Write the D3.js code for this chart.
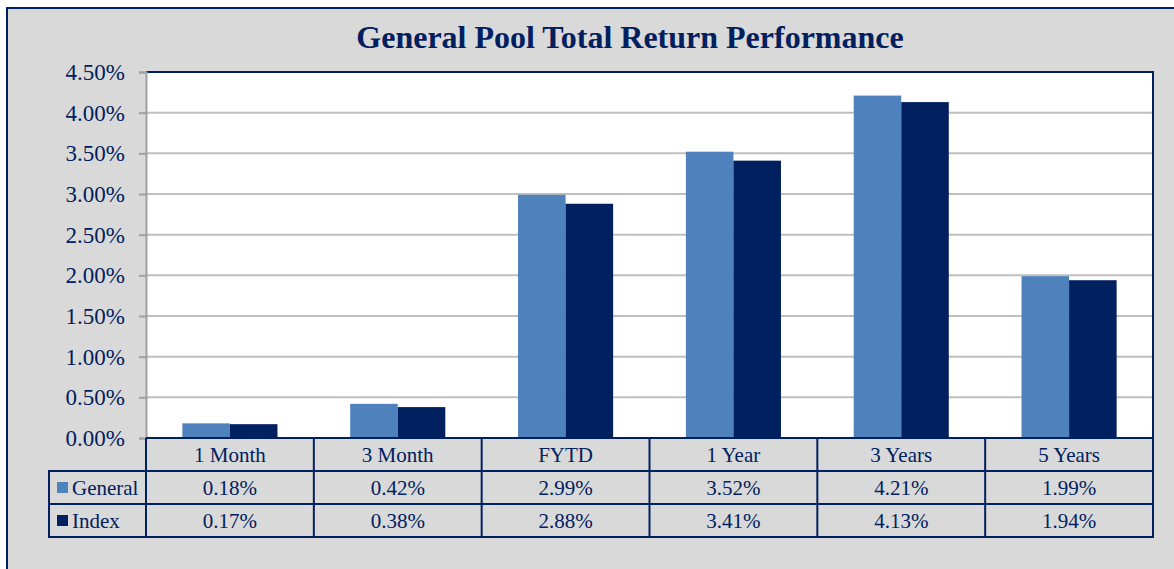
<!DOCTYPE html>
<html>
<head>
<meta charset="utf-8">
<script src="https://cdn.jsdelivr.net/npm/d3@7"></script>
<style>
  body { margin: 0; background: #fff; }
  text { font-family: "Liberation Serif", "Times New Roman", serif; fill: #002060; }
</style>
</head>
<body>
<svg id="chart" width="1174" height="569"></svg>
<script>
const categories = ["1 Month", "3 Month", "FYTD", "1 Year", "3 Years", "5 Years"];
const seriesNames = ["General", "Index"];
const generalValues = [0.18, 0.42, 2.99, 3.52, 4.21, 1.99];
const indexValues = [0.17, 0.38, 2.88, 3.41, 4.13, 1.94];
const seriesColors = ["#4f81bd", "#002060"];
const yTicks = [0, 0.5, 1, 1.5, 2, 2.5, 3, 3.5, 4, 4.5];

const svg = d3.select("#chart");
const navy = "#002060";

// outer frame (runs off the right and bottom of the picture)
svg.append("rect")
    .attr("x", 7).attr("y", 8)
    .attr("width", 1180).attr("height", 580)
    .attr("fill", "#d9d9d9")
    .attr("stroke", navy).attr("stroke-width", 2);

svg.append("text")
    .attr("x", 630).attr("y", 48)
    .attr("text-anchor", "middle")
    .style("font-size", "32px").style("font-weight", "bold")
    .text("General Pool Total Return Performance");

const plotLeft = 146, plotRight = 1153, plotTop = 72, plotBottom = 438;

const x = d3.scaleBand().domain(categories).range([plotLeft, plotRight]).paddingInner(0).paddingOuter(0);
const x1 = d3.scaleBand().domain(seriesNames).range([0, x.bandwidth()]).paddingInner(0).paddingOuter(0.765);
const y = d3.scaleLinear().domain([0, 4.5]).range([plotBottom, plotTop]);

// plot area
svg.append("rect")
    .attr("x", plotLeft).attr("y", plotTop)
    .attr("width", plotRight - plotLeft).attr("height", plotBottom - plotTop)
    .attr("fill", "#fff");

// gridlines
svg.append("g").selectAll("line")
    .data(yTicks.filter(d => d > 0 && d < 4.5))
    .join("line")
    .attr("x1", plotLeft).attr("x2", plotRight)
    .attr("y1", d => y(d)).attr("y2", d => y(d))
    .attr("stroke", "#bfbfbf").attr("stroke-width", 2);

// plot border top and right
svg.append("path")
    .attr("d", `M${plotLeft},${plotTop}H${plotRight}V${plotBottom}`)
    .attr("fill", "none").attr("stroke", navy).attr("stroke-width", 2);

// y axis
const yAxis = svg.append("g")
    .attr("transform", `translate(${plotLeft},0)`)
    .call(d3.axisLeft(y).tickValues(yTicks).tickSize(7).tickPadding(14)
        .tickFormat(d => d.toFixed(2) + "%"));
yAxis.attr("font-family", null).attr("font-size", null);
yAxis.select(".domain").attr("stroke", "#a0a0a0").attr("stroke-width", 2);
yAxis.selectAll(".tick line").attr("stroke", "#a0a0a0").attr("stroke-width", 2);
yAxis.selectAll(".tick text")
    .style("font-size", "23px").attr("fill", navy);

// bars
const seriesData = [generalValues, indexValues];
svg.append("g").selectAll("g")
    .data(seriesData)
    .join("g")
    .attr("fill", (d, i) => seriesColors[i])
    .each(function(vals, si) {
        d3.select(this).selectAll("rect")
            .data(vals)
            .join("rect")
            .attr("x", (d, i) => x(categories[i]) + x1(seriesNames[si]))
            .attr("width", x1.bandwidth())
            .attr("y", d => y(d))
            .attr("height", d => y(0) - y(d));
    });

// data table
const rowH = 33;
const tableLeft = 49;
const table = svg.append("g");
const lineStyle = s => s.attr("stroke", navy).attr("stroke-width", 2).attr("fill", "none");

table.append("path")
    .attr("d", `M${plotLeft},${plotBottom}H${plotRight}V${plotBottom + 3 * rowH}H${tableLeft}V${plotBottom + rowH}H${plotRight}`
        + `M${tableLeft},${plotBottom + 2 * rowH}H${plotRight}`)
    .call(lineStyle);
table.selectAll(".col")
    .data(d3.range(categories.length + 1))
    .join("line")
    .attr("x1", i => plotLeft + i * x.bandwidth()).attr("x2", i => plotLeft + i * x.bandwidth())
    .attr("y1", plotBottom).attr("y2", plotBottom + 3 * rowH)
    .call(lineStyle);

table.selectAll(".cat")
    .data(categories)
    .join("text")
    .attr("x", d => x(d) + x.bandwidth() / 2)
    .attr("y", plotBottom + rowH / 2 + 7)
    .attr("text-anchor", "middle")
    .style("font-size", "21px")
    .text(d => d);

seriesData.forEach((vals, si) => {
    const ry = plotBottom + (si + 1) * rowH;
    table.append("rect")
        .attr("x", 57).attr("y", ry + 11)
        .attr("width", 11).attr("height", 11)
        .attr("fill", seriesColors[si]);
    table.append("text")
        .attr("x", 72).attr("y", ry + rowH / 2 + 7)
        .style("font-size", "21px")
        .text(seriesNames[si]);
    table.selectAll(".v" + si)
        .data(vals)
        .join("text")
        .attr("x", (d, i) => x(categories[i]) + x.bandwidth() / 2)
        .attr("y", ry + rowH / 2 + 7)
        .attr("text-anchor", "middle")
        .style("font-size", "21px")
        .text(d => d.toFixed(2) + "%");
});
</script>
</body>
</html>
